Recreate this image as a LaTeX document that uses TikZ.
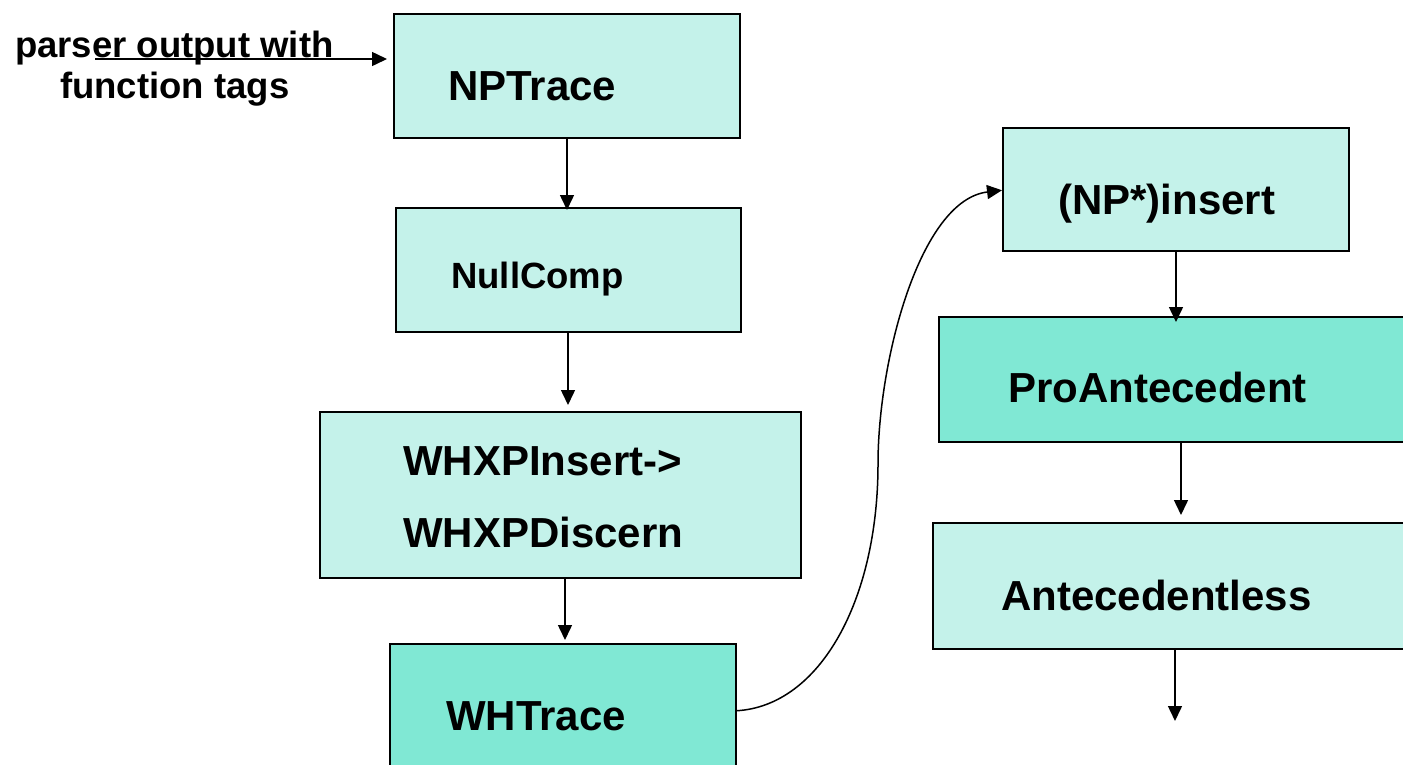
\documentclass[tikz,border=0pt]{standalone}
\usepackage{fontspec}
\setmainfont{Liberation Sans}
\usetikzlibrary{arrows.meta}
\definecolor{boxlight}{RGB}{196,242,234}
\definecolor{boxdark}{RGB}{128,232,212}
\begin{document}
\begin{tikzpicture}[x=1pt,y=-1pt,
  stage/.style={draw=black,line width=1.5pt,fill=boxlight,inner sep=0pt},
  stagedark/.style={stage,fill=boxdark},
  lbl/.style={inner sep=0pt,anchor=base west,font=\fontsize{42}{50}\selectfont\bfseries},
  smalllbl/.style={lbl,font=\fontsize{36.5}{44}\selectfont\bfseries},
  arr/.style={line width=1.5pt,-{Triangle[length=15pt,width=14pt]}}]
\useasboundingbox (0,0) rectangle (1403,764);
% stage boxes
\node[stage,minimum width=346pt,minimum height=124pt,anchor=north west] (np) at (393,13) {};
\node[stage,minimum width=345pt,minimum height=124pt,anchor=north west] (nc) at (395,207) {};
\node[stage,minimum width=481pt,minimum height=166pt,anchor=north west] (wx) at (319,411) {};
\node[stagedark,minimum width=346pt,minimum height=130pt,anchor=north west] (wt) at (389,643) {};
\node[stage,minimum width=346pt,minimum height=123pt,anchor=north west] (ni) at (1002,127) {};
\node[stagedark,minimum width=475pt,minimum height=125pt,anchor=north west] (pa) at (938,316) {};
\node[stage,minimum width=481pt,minimum height=126pt,anchor=north west] (al) at (932,522) {};
% box texts
\node[lbl] (tnp) at (448,100) {NPTrace};
\node[smalllbl] (tnc) at (451,288) {NullComp};
\node[lbl] (twx1) at (403,475) {WHXPInsert->};
\node[lbl] (twx2) at (403,547) {WHXPDiscern};
\node[lbl] (twt) at (446,730) {WHTrace};
\node[lbl] (tni) at (1058,214) {(NP*)insert};
\node[lbl] (tpa) at (1008,402) {ProAntecedent};
\node[lbl] (tal) at (1001,610) {Antecedentless};
% input label
\node[smalllbl] (in1) at (15,57) {parser output with};
\node[smalllbl] (in2) at (60,98) {function tags};
% vertical lines of the connectors
\coordinate (ax1) at (567,0);
\coordinate (ax2) at (568,0);
\coordinate (ax3) at (565,0);
\coordinate (ax4) at (1176,0);
\coordinate (ax5) at (1181,0);
\coordinate (ax6) at (1175,0);
\coordinate (instart) at (95,59);
\coordinate (outend) at (1175,721);
% connectors
\draw[arr,shorten >=6pt] (instart) -- (instart -| np.west);
\draw[arr,shorten >=-3pt] (np.south -| ax1) -- (nc.north -| ax1);
\draw[arr,shorten >=6pt] (nc.south -| ax2) -- (wx.north -| ax2);
\draw[arr,shorten >=3pt] (wx.south -| ax3) -- (wt.north -| ax3);
\draw[arr,shorten >=-6pt] (ni.south -| ax4) -- (pa.north -| ax4);
\draw[arr,shorten >=7pt] (pa.south -| ax5) -- (al.north -| ax5);
\draw[arr] (al.south -| ax6) -- (outend);
\draw[arr] ([yshift=-2pt]wt.east) .. controls (820,706) and (878,600) .. (878,464)
  .. controls (878,360) and (920,200) .. ([yshift=-1pt]ni.west);
\end{tikzpicture}
\end{document}
